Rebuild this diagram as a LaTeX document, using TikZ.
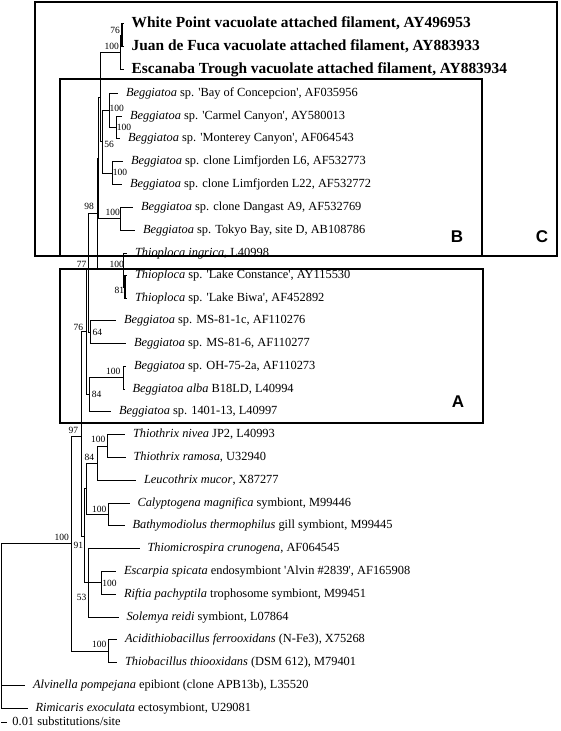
\documentclass[tikz,border=0pt]{standalone}
\usepackage{fontspec}
\setmainfont{Liberation Serif}
\newfontfamily\boxfont{Liberation Sans}
\usetikzlibrary{positioning}
\newcommand{\q}{\textquotesingle}

\begin{document}
\begin{tikzpicture}[
  x=1pt, y=-1pt, line width=1pt,
  leaf/.style={anchor=west, inner xsep=7.5pt, inner ysep=0pt,
    text height=8.7pt, text depth=2.5pt, font=\fontsize{12.4}{14}\selectfont},
  vaf/.style={leaf, text height=10.8pt, text depth=3pt,
    font=\fontsize{15.4}{18}\selectfont\bfseries},
  bsv/.style={inner sep=0pt, font=\fontsize{9.5}{11}\selectfont},
  cladebox/.style={draw, line width=2pt},
  boxname/.style={inner sep=0pt, font=\boxfont\bfseries\fontsize{17}{20}\selectfont},
  zerobranch/.style={line width=2pt}
]
\path[use as bounding box, fill=white] (0,0) rectangle (560,731);

% --- Clade boxes ---
\draw[cladebox] (35,2) rectangle (557,256);
\draw[cladebox] (60,79) rectangle (482,256);
\draw[cladebox] (60,269) rectangle (483,423);
\node[boxname] (labC) at (542,237) {C};
\node[boxname] (labB) at (457,237) {B};
\node[boxname] (labA) at (458,402) {A};

% --- Taxa ---
\node[vaf]  (wp)    at (123.7,23.3)  {White Point vacuolate attached filament, AY496953};
\node[vaf]  (jdf)   at (123.7,46.7)  {Juan de Fuca vacuolate attached filament, AY883933};
\node[vaf]  (esc)   at (123.7,69.3)  {Escanaba Trough vacuolate attached filament, AY883934};
\node[leaf] (bay)   at (118,93.3)    {\textit{Beggiatoa} sp. \q Bay of Concepcion\q, AF035956};
\node[leaf] (car)   at (122,116)     {\textit{Beggiatoa} sp. \q Carmel Canyon\q, AY580013};
\node[leaf] (mon)   at (120,138.3)   {\textit{Beggiatoa} sp. \q Monterey Canyon\q, AF064543};
\node[leaf] (lim6)  at (123,161.5)   {\textit{Beggiatoa} sp. clone Limfjorden L6, AF532773};
\node[leaf] (lim22) at (122,184.3)   {\textit{Beggiatoa} sp. clone Limfjorden L22, AF532772};
\node[leaf] (dan)   at (133,207.3)   {\textit{Beggiatoa} sp. clone Dangast A9, AF532769};
\node[leaf] (tok)   at (135,230)     {\textit{Beggiatoa} sp. Tokyo Bay, site D, AB108786};
\node[leaf] (ing)   at (127,253.3)   {\textit{Thioploca ingrica}, L40998};
\node[leaf] (lcon)  at (127,275.5)   {\textit{Thioploca} sp. \q Lake Constance\q, AY115530};
\node[leaf] (lbiw)  at (127,298.3)   {\textit{Thioploca} sp. \q Lake Biwa\q, AF452892};
\node[leaf] (ms1c)  at (116,320.8)   {\textit{Beggiatoa} sp. MS-81-1c, AF110276};
\node[leaf] (ms6)   at (126,343.5)   {\textit{Beggiatoa} sp. MS-81-6, AF110277};
\node[leaf] (oh)    at (126,366.3)   {\textit{Beggiatoa} sp. OH-75-2a, AF110273};
\node[leaf] (alba)  at (124.5,389)   {\textit{Beggiatoa alba} B18LD, L40994};
\node[leaf] (b1401) at (111,411.8)   {\textit{Beggiatoa} sp. 1401-13, L40997};
\node[leaf] (tniv)  at (125,434.6)   {\textit{Thiothrix nivea} JP2, L40993};
\node[leaf] (tram)  at (125.5,457.4) {\textit{Thiothrix ramosa}, U32940};
\node[leaf] (leu)   at (136,480.2)   {\textit{Leucothrix mucor}, X87277};
\node[leaf] (caly)  at (129.5,503)   {\textit{Calyptogena magnifica} symbiont, M99446};
\node[leaf] (bath)  at (124.5,525.8) {\textit{Bathymodiolus thermophilus} gill symbiont, M99445};
\node[leaf] (tmic)  at (139.5,548.6) {\textit{Thiomicrospira crunogena}, AF064545};
\node[leaf] (escp)  at (116,571.4)   {\textit{Escarpia spicata} endosymbiont \q Alvin \#2839\q, AF165908};
\node[leaf] (rift)  at (116,594.2)   {\textit{Riftia pachyptila} trophosome symbiont, M99451};
\node[leaf] (sol)   at (118.5,617)   {\textit{Solemya reidi} symbiont, L07864};
\node[leaf] (acid)  at (117,639.8)   {\textit{Acidithiobacillus ferrooxidans} (N-Fe3), X75268};
\node[leaf] (tbac)  at (117,662.6)   {\textit{Thiobacillus thiooxidans} (DSM 612), M79401};
\node[leaf] (alv)   at (25,685.4)    {\textit{Alvinella pompejana} epibiont (clone APB13b), L35520};
\node[leaf] (rim)   at (27.5,708.2)  {\textit{Rimicaris exoculata} ectosymbiont, U29081};

% --- Internal nodes ---
\coordinate (root)  at (1,543);
\coordinate (n100a) at (71,543);
\coordinate (n97)   at (81,436);
\coordinate (n76)   at (86,331);
\coordinate (n77)   at (88,268);
\coordinate (n98)   at (97,213);
\coordinate (nq)    at (98,158);
\coordinate (nc)    at (100,97);
\coordinate (nvaf)  at (120,52);
\coordinate (nvaf2) at (121.5,35);
\coordinate (n56)   at (102,141.5);
\coordinate (nbay)  at (109,110);
\coordinate (ncar)  at (116,127);
\coordinate (nlim)  at (112,173);
\coordinate (ndan)  at (120,218.5);
\coordinate (ntpl)  at (123.5,268);
\coordinate (nlake) at (124.5,287);
\coordinate (n64)   at (90,332);
\coordinate (n84a)  at (89,394.5);
\coordinate (noh)   at (123,377.5);
\coordinate (n91)   at (84,536);
\coordinate (nup)   at (86,488.5);
\coordinate (n84b)  at (97,463);
\coordinate (nthx)  at (107,446);
\coordinate (ncal)  at (108,514);
\coordinate (n53)   at (88,582.5);
\coordinate (nesc)  at (101,582.5);
\coordinate (nacid) at (108,651);

% --- Branches ---
\draw
  (root) |- (n100a)  (root) |- (alv)  (root) |- (rim)
  (n100a) |- (n97)   (n100a) |- (nacid)
  (nacid) |- (acid)  (nacid) |- (tbac)
  (n97) |- (n76)     (n97) |- (n91)
  (n76) |- (n77)     (n76) |- (n84a)
  (n77) |- (n98)     (n77) |- (n64)
  (n98) |- (nq)      (n98) |- (ntpl)
  (nq) |- (nc)       (nq) |- (ndan)
  (nc) |- (nvaf)     (nc) |- (n56)
  (nvaf) |- (nvaf2)  (nvaf) |- (esc)
  (nvaf2) |- (wp)    (nvaf2) |- (jdf)
  (n56) |- (nbay)    (n56) |- (nlim)
  (nbay) |- (bay)    (nbay) |- (ncar)
  (ncar) |- (car)    (ncar) |- (mon)
  (nlim) |- (lim6)   (nlim) |- (lim22)
  (ndan) |- (dan)    (ndan) |- (tok)
  (ntpl) |- (ing)    (ntpl) |- (nlake)
  (nlake) |- (lcon)  (nlake) |- (lbiw)
  (n64) |- (ms1c)    (n64) |- (ms6)
  (n84a) |- (noh)    (n84a) |- (b1401)
  (noh) |- (oh)      (noh) |- (alba)
  (n91) |- (nup)     (n91) |- (n53)
  (nup) |- (n84b)    (nup) |- (ncal)
  (n84b) |- (nthx)   (n84b) |- (leu)
  (nthx) |- (tniv)   (nthx) |- (tram)
  (ncal) |- (caly)   (ncal) |- (bath)
  (n53) |- (tmic)    (n53) |- (nesc)   (n53) |- (sol)
  (nesc) |- (escp)   (nesc) |- (rift);
\draw[zerobranch] (nvaf2 |- wp.west) -- (nvaf2 |- jdf.west);
\draw[zerobranch] (nlake |- lcon.west) -- (nlake |- lbiw.west);

% --- Bootstrap values ---
\node[bsv] (bs1)  at (115,30.7)   {76};
\node[bsv] (bs2)  at (111.7,46.7) {100};
\node[bsv] (bs3)  at (116.7,108.3){100};
\node[bsv] (bs4)  at (124,127.3)  {100};
\node[bsv] (bs5)  at (109,144)    {56};
\node[bsv] (bs6)  at (120,172.7)  {100};
\node[bsv] (bs7)  at (89,206)     {98};
\node[bsv] (bs8)  at (112.7,212.3){100};
\node[bsv] (bs9)  at (81.7,264)   {77};
\node[bsv] (bs10) at (116.7,264)  {100};
\node[bsv] (bs11) at (119.3,290.7){81};
\node[bsv] (bs12) at (78.3,327.3) {76};
\node[bsv] (bs13) at (97.3,332.7) {64};
\node[bsv] (bs14) at (113.3,371)  {100};
\node[bsv] (bs15) at (96.7,394)   {84};
\node[bsv] (bs16) at (73.3,430)   {97};
\node[bsv] (bs17) at (98.3,439.3) {100};
\node[bsv] (bs18) at (89.3,457.3) {84};
\node[bsv] (bs19) at (99.3,509)   {100};
\node[bsv] (bs20) at (61.7,537.3) {100};
\node[bsv] (bs21) at (78.3,545)   {91};
\node[bsv] (bs22) at (109.5,583)  {100};
\node[bsv] (bs23) at (81.7,597.3) {53};
\node[bsv] (bs24) at (99.3,644)   {100};

% --- Scale bar ---
\coordinate (sb0) at (1,722);
\coordinate (sb1) at (7,722);
\draw (sb0) -- (sb1);
\node[leaf, inner xsep=5pt] (sbar) at (sb1) {0.01 substitutions/site};

\end{tikzpicture}
\end{document}
